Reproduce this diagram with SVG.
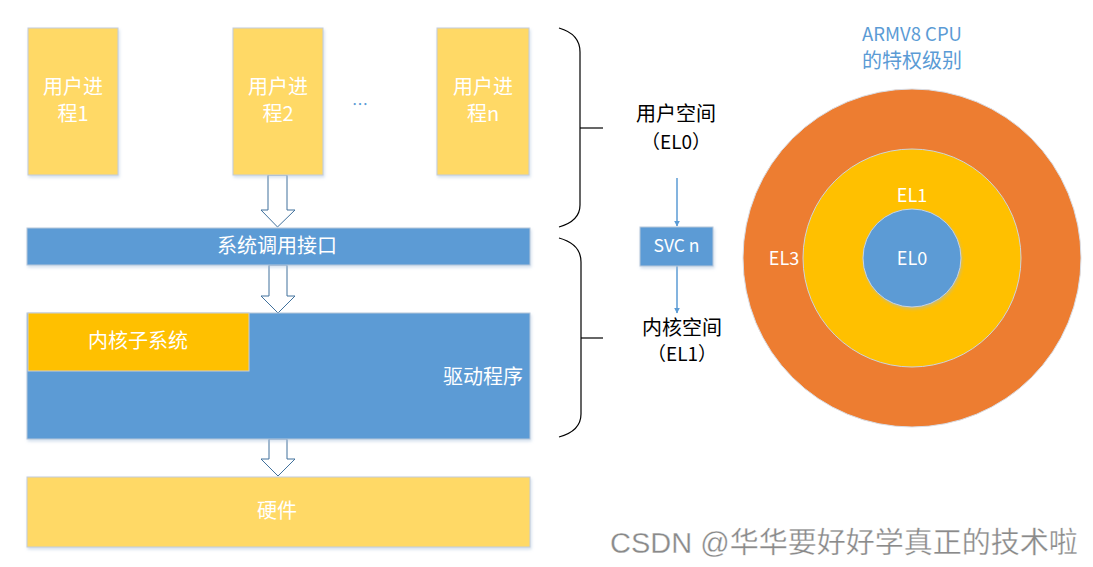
<svg xmlns="http://www.w3.org/2000/svg" width="1093" height="567" viewBox="0 0 1093 567">
<defs>
<style>
.t{font-family:"Noto Sans CJK SC","Liberation Sans",sans-serif;}
.w{fill:#fff;}
.k{fill:#000;}
.ybox{fill:#FFD966;stroke:#C3CCDA;stroke-width:1;}
.bbox{fill:#5B9BD5;stroke:#B8C7DA;stroke-width:1;}
.harrow{fill:#fff;stroke:#41719C;stroke-width:1;}
.brace{fill:none;stroke:#000;stroke-width:1.2;}
.thin{stroke:#5B9BD5;stroke-width:1.5;fill:none;}
</style>
<marker id="ah" viewBox="0 0 10 10" refX="9" refY="5" markerWidth="6" markerHeight="6" orient="auto" markerUnits="userSpaceOnUse">
<path d="M0,0 L10,5 L0,10 z" fill="#5B9BD5"/>
</marker>
<filter id="sh" x="-10%" y="-10%" width="130%" height="130%">
<feDropShadow dx="1" dy="2" stdDeviation="1.5" flood-color="#9DB7D8" flood-opacity="0.45"/>
</filter>
</defs>
<rect width="1093" height="567" fill="#fff"/>

<g id="connectors">
<path class="harrow" d="M268,175 L287,175 L287,210 L295,210 L277.5,227 L261,210 L268,210 Z"/>
<path class="harrow" d="M269,265 L287,265 L287,296 L295,296 L278,313 L261,296 L269,296 Z"/>
<path class="harrow" d="M269,439 L287,439 L287,459 L295,459 L278,476 L261,459 L269,459 Z"/>
<line class="thin" x1="677" y1="178" x2="677" y2="226" marker-end="url(#ah)"/>
<line class="thin" x1="677" y1="266" x2="677" y2="313" marker-end="url(#ah)"/>
</g>

<g id="proc1">
<rect class="ybox" x="28" y="28" width="90" height="147" filter="url(#sh)"/>
<text class="t w" x="73" y="94" font-size="20" text-anchor="middle">用户进</text>
<text class="t w" x="73" y="121" font-size="20" text-anchor="middle">程1</text>
</g>
<g id="proc2">
<rect class="ybox" x="233" y="28" width="90" height="147" filter="url(#sh)"/>
<text class="t w" x="278" y="94" font-size="20" text-anchor="middle">用户进</text>
<text class="t w" x="278" y="121" font-size="20" text-anchor="middle">程2</text>
</g>
<g id="dots">
<text class="t" x="360" y="110" font-size="16" fill="#5B9BD5" text-anchor="middle">…</text>
</g>
<g id="procn">
<rect class="ybox" x="437" y="28" width="92" height="147" filter="url(#sh)"/>
<text class="t w" x="483" y="94" font-size="20" text-anchor="middle">用户进</text>
<text class="t w" x="483" y="121" font-size="20" text-anchor="middle">程n</text>
</g>

<g id="syscall">
<rect class="bbox" x="27" y="228" width="503" height="37" filter="url(#sh)"/>
<text class="t w" x="277" y="253" font-size="20" text-anchor="middle">系统调用接口</text>
</g>

<g id="driver">
<rect class="bbox" x="27" y="313" width="503" height="126" filter="url(#sh)"/>
<text class="t w" x="523" y="384" font-size="20" text-anchor="end">驱动程序</text>
</g>
<g id="subsystem">
<rect x="28" y="313" width="221" height="58" fill="#FFC000" stroke="#C9CDD6" stroke-width="1"/>
<text class="t w" x="138" y="348" font-size="20" text-anchor="middle">内核子系统</text>
</g>

<g id="hardware">
<rect class="ybox" x="27" y="477" width="503" height="70" filter="url(#sh)"/>
<text class="t w" x="277" y="518" font-size="20" text-anchor="middle">硬件</text>
</g>

<g id="brace-user">
<path class="brace" d="M559,28 Q580,34 580,52 L580,205 Q580,221 559,227"/>
<line class="brace" x1="580" y1="128" x2="603" y2="128"/>
</g>
<g id="brace-kernel">
<path class="brace" d="M559,238 Q581,244 581,262 L581,414 Q581,431 559,437"/>
<line class="brace" x1="581" y1="338" x2="603" y2="338"/>
</g>

<g id="userspace">
<text class="t k" x="676" y="121" font-size="20" text-anchor="middle">用户空间</text>
<text class="t k" x="676" y="149" font-size="19" text-anchor="middle">（EL0）</text>
</g>
<g id="svc">
<rect class="bbox" x="640" y="227" width="73" height="39" filter="url(#sh)"/>
<text class="t w" x="676.5" y="252" font-size="17.5" text-anchor="middle">SVC n</text>
</g>
<g id="kernelspace">
<text class="t k" x="682" y="335" font-size="20" text-anchor="middle">内核空间</text>
<text class="t k" x="682" y="361" font-size="19" text-anchor="middle">（EL1）</text>
</g>

<g id="title">
<text class="t" x="912" y="41" font-size="18.5" fill="#5B9BD5" text-anchor="middle">ARMV8 CPU</text>
<text class="t" x="912" y="68" font-size="20" fill="#5B9BD5" text-anchor="middle">的特权级别</text>
</g>
<g id="el3">
<circle cx="912" cy="258" r="169" fill="#ED7D31" stroke="#D9DDE5" stroke-width="1"/>
<text class="t w" x="784" y="265" font-size="18" text-anchor="middle">EL3</text>
</g>
<g id="el1">
<circle cx="912" cy="258" r="109" fill="#FFC000" stroke="#CCD3DD" stroke-width="1"/>
<text class="t w" x="912" y="202" font-size="18" text-anchor="middle">EL1</text>
</g>
<g id="el0">
<circle cx="912" cy="258" r="49" fill="#5B9BD5" stroke="#C9D3E0" stroke-width="1" filter="url(#sh)"/>
<text class="t w" x="912" y="265" font-size="18" text-anchor="middle">EL0</text>
</g>

<g id="watermark">
<text class="t" x="610" y="553" font-size="29" fill="#8a8a8a" stroke="#ffffff" stroke-width="0.3" style="font-family:'Liberation Sans','Noto Sans CJK SC',sans-serif">CSDN @华华要好好学真正的技术啦</text>
</g>
</svg>
